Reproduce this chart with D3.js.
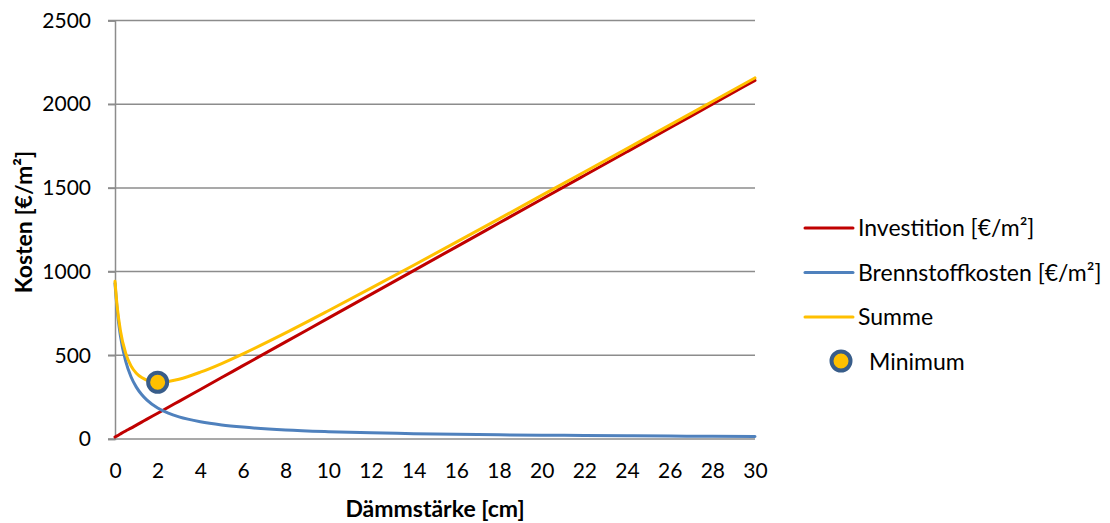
<!DOCTYPE html>
<html><head><meta charset="utf-8">
<script src="https://cdn.jsdelivr.net/npm/d3@7"></script>
<style>html,body{margin:0;padding:0;background:#fff;} svg{display:block;font-family:Lato, "Open Sans", sans-serif;}</style>
</head><body>
<svg id="c" width="1110" height="523"></svg>
<script>
const thickness = [0, 0.1, 0.25, 0.5, 0.75, 1, 1.25, 1.5, 2, 2.5, 3, 4, 5, 6, 8, 10, 12, 14, 16, 18, 20, 22, 24, 26, 28, 30];
const investition = [12, 19, 30, 48, 65, 83, 101, 119, 154, 190, 225, 296, 367, 438, 580, 722, 864, 1006, 1148, 1290, 1432, 1574, 1716, 1858, 2000, 2142];
const brennstoff = [930, 775, 620, 465, 372, 310, 266, 232, 185, 154, 132, 103, 84, 71, 54, 44, 37, 32, 28, 25, 23, 21, 19, 17.5, 16, 15];
const summe = [942, 794, 650, 513, 437, 393, 367, 351, 339, 344, 357, 399, 451, 509, 634, 766, 901, 1038, 1176, 1315, 1455, 1595, 1735, 1875, 2016, 2157];
const minimum = {x: 2, y: 339};
const xTicks = [0,2,4,6,8,10,12,14,16,18,20,22,24,26,28,30];
const yTicks = [0,500,1000,1500,2000,2500];
const seriesNames = ["Investition [€/m²]", "Brennstoffkosten [€/m²]", "Summe", "Minimum"];
const colors = ["#C00000", "#4F81BD", "#FFC000"];

const svg = d3.select("#c");
const L = 115, R = 755, T = 20.5, B = 439;
const x = d3.scaleLinear().domain([0,30]).range([L,R]);
const y = d3.scaleLinear().domain([0,2500]).range([B,T]);

// gridlines
svg.append("g").selectAll("line").data(yTicks.filter(d=>d>0)).join("line")
  .attr("x1", L-7).attr("x2", R).attr("y1", d=>y(d)).attr("y2", d=>y(d))
  .attr("stroke", "#8c8c8c").attr("stroke-width", 1.5);
// y axis
const yAxis = svg.append("g").attr("transform", `translate(${L},0)`)
  .call(d3.axisLeft(y).tickValues(yTicks).tickFormat(d3.format("d")).tickSize(7).tickPadding(17));
yAxis.select(".domain").attr("stroke", "#8c8c8c").attr("stroke-width", 1.5);
yAxis.selectAll(".tick line").attr("stroke", "#8c8c8c").attr("stroke-width", 1.5);
yAxis.selectAll(".tick text").attr("font-size", 21).attr("fill", "#000").attr("font-family", "Lato");
// x axis
const xAxis = svg.append("g").attr("transform", `translate(0,${B})`)
  .call(d3.axisBottom(x).tickValues(xTicks).tickSize(0).tickPadding(24));
xAxis.select(".domain").attr("stroke", "#8c8c8c").attr("stroke-width", 1.5).attr("d", `M${L-7},0H${R}`);
xAxis.selectAll(".tick text").attr("font-size", 21).attr("fill", "#000").attr("font-family", "Lato");

const line = d3.line().x((d,i)=>x(thickness[i])).y(d=>y(d)).curve(d3.curveMonotoneX);
[investition, brennstoff, summe].forEach((s,k)=>{
  svg.append("path").datum(s).attr("d", line).attr("fill","none")
    .attr("stroke", colors[k]).attr("stroke-width", 3).attr("stroke-linecap","round");
});
svg.append("circle").attr("cx", x(minimum.x)).attr("cy", y(minimum.y)).attr("r", 9.5)
  .attr("fill", "#FFC000").attr("stroke", "#385D8A").attr("stroke-width", 4);

// axis titles
svg.append("text").attr("x", (L+R)/2).attr("y", 517).attr("text-anchor","middle")
  .attr("font-weight","bold").attr("font-size",23).text("Dämmstärke [cm]");
svg.append("text").attr("transform", `translate(32,222) rotate(-90)`).attr("text-anchor","middle")
  .attr("font-weight","bold").attr("font-size",23).text("Kosten [€/m²]");

// legend
const legY = [228, 272.5, 317];
[0,1,2].forEach(k=>{
  svg.append("line").attr("x1",805).attr("x2",853).attr("y1",legY[k]).attr("y2",legY[k])
    .attr("stroke",colors[k]).attr("stroke-width",3).attr("stroke-linecap","round");
  svg.append("text").attr("x",858).attr("y",legY[k]).attr("dy","0.35em").attr("font-size",23).text(seriesNames[k]);
});
svg.append("circle").attr("cx",841).attr("cy",361).attr("r",9.5).attr("fill","#FFC000").attr("stroke","#385D8A").attr("stroke-width",4);
svg.append("text").attr("x",869).attr("y",362).attr("dy","0.35em").attr("font-size",23).text(seriesNames[3]);
</script>
</body></html>
